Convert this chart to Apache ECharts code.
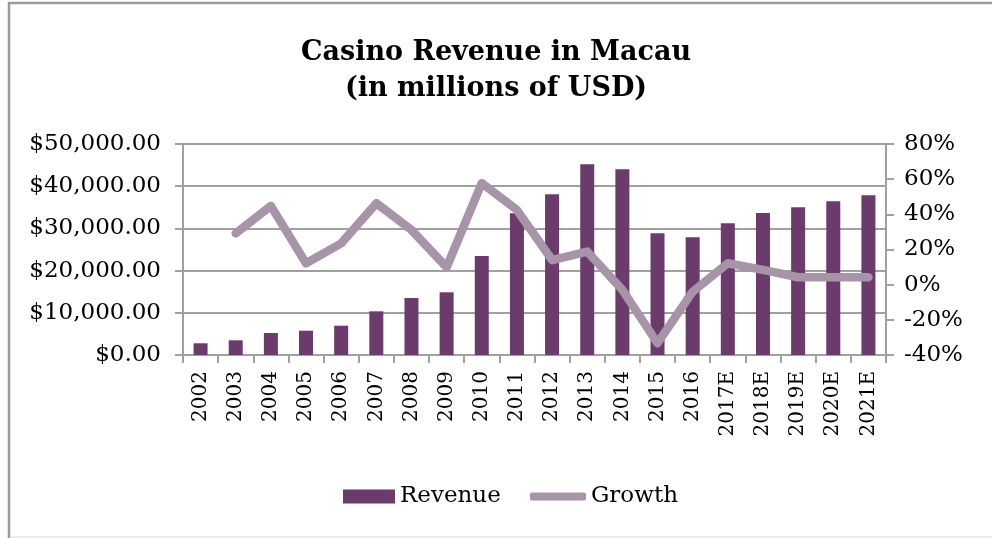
<!DOCTYPE html>
<html>
<head>
<meta charset="utf-8">
<script src="https://cdn.jsdelivr.net/npm/echarts@6/dist/echarts.min.js"></script>
<style>
  html, body { margin: 0; padding: 0; background: #fff; }
  #chart { width: 992px; height: 538px; }
</style>
</head>
<body>
<div id="chart"></div>
<script>
// Macau casino revenue (millions USD) and year-on-year growth
const years = ['2002','2003','2004','2005','2006','2007','2008','2009','2010','2011',
               '2012','2013','2014','2015','2016','2017E','2018E','2019E','2020E','2021E'];
const revenue = [2780, 3480, 5210, 5760, 6940, 10350, 13500, 14860, 23460, 33580,
                 38080, 45190, 44000, 28840, 27890, 31210, 33650, 35000, 36420, 37840];
const growth = [null, 29.2, 44.8, 12.2, 23.5, 46.3, 31.1, 9.9, 57.7, 42.5,
                14.0, 18.8, -3.0, -33.3, -4.0, 12.2, 8.4, 4.2, 4.2, 4.2];
const revenueTicks = { min: 0, max: 50000, step: 10000 };
const growthTicks = { min: -40, max: 80, step: 20 };

const serif = '"DejaVu Serif", "Liberation Serif", serif';
const axisGray = '#a0a0a0';
const barColor = '#6b3c6b';
const lineColor = '#a894a8';

const chart = echarts.init(document.getElementById('chart'), null, { renderer: 'canvas' });

chart.setOption({
  animation: false,
  backgroundColor: '#ffffff',
  title: {
    text: 'Casino Revenue in Macau\n(in millions of USD)',
    left: 'center',
    top: 30,
    textStyle: {
      fontFamily: serif,
      fontWeight: 'bold',
      fontSize: 27,
      lineHeight: 36,
      color: '#000'
    }
  },
  legend: [
    {
      left: 338,
      top: 480,
      itemWidth: 52,
      itemHeight: 14,
      textStyle: { fontFamily: serif, fontSize: 23, color: '#000' },
      data: [{ name: 'Revenue', icon: 'rect' }]
    },
    {
      left: 525,
      top: 480,
      itemWidth: 56,
      itemHeight: 8,
      textStyle: { fontFamily: serif, fontSize: 23, color: '#000' },
      data: [{ name: 'Growth', icon: 'roundRect' }]
    }
  ],
  grid: { left: 183, right: 106, top: 144, bottom: 183 },
  xAxis: {
    type: 'category',
    data: years,
    boundaryGap: true,
    axisLine: { lineStyle: { color: axisGray, width: 2 } },
    axisTick: { show: true, interval: 0, length: 8, lineStyle: { color: axisGray, width: 2 } },
    axisLabel: {
      interval: 0,
      rotate: 90,
      margin: 16,
      fontFamily: serif,
      fontSize: 20,
      color: '#000'
    }
  },
  yAxis: [
    {
      type: 'value',
      min: revenueTicks.min,
      max: revenueTicks.max,
      interval: revenueTicks.step,
      axisLine: { show: true, lineStyle: { color: axisGray, width: 2 } },
      axisTick: { show: true, length: 8, lineStyle: { color: axisGray, width: 2 } },
      splitLine: { show: true, lineStyle: { color: axisGray, width: 2 } },
      axisLabel: {
        margin: 22,
        fontFamily: serif,
        fontSize: 23,
        color: '#000',
        formatter: v => '$' + v.toLocaleString('en-US', { minimumFractionDigits: 2, maximumFractionDigits: 2 })
      }
    },
    {
      type: 'value',
      min: growthTicks.min,
      max: growthTicks.max,
      interval: growthTicks.step,
      position: 'right',
      axisLine: { show: true, lineStyle: { color: axisGray, width: 2 } },
      axisTick: { show: true, length: 8, lineStyle: { color: axisGray, width: 2 } },
      splitLine: { show: false },
      axisLabel: {
        margin: 18,
        fontFamily: serif,
        fontSize: 23,
        color: '#000',
        formatter: '{value}%'
      }
    }
  ],
  series: [
    {
      name: 'Revenue',
      type: 'bar',
      yAxisIndex: 0,
      data: revenue,
      barWidth: 14,
      itemStyle: { color: barColor }
    },
    {
      name: 'Growth',
      type: 'line',
      yAxisIndex: 1,
      data: growth,
      symbol: 'none',
      connectNulls: false,
      lineStyle: { color: lineColor, width: 8.5, cap: 'round', join: 'round' },
      itemStyle: { color: lineColor },
      z: 3
    }
  ],
  graphic: [
    { type: 'line', shape: { x1: 8, y1: 3, x2: 992, y2: 3 }, style: { stroke: '#9a9a9a', lineWidth: 2.5 } },
    { type: 'line', shape: { x1: 9, y1: 2, x2: 9, y2: 538 }, style: { stroke: '#9a9a9a', lineWidth: 2.5 } },
    { type: 'line', shape: { x1: 10, y1: 537, x2: 992, y2: 537 }, style: { stroke: '#e6e6e6', lineWidth: 1.5 } }
  ]
});
</script>
</body>
</html>
